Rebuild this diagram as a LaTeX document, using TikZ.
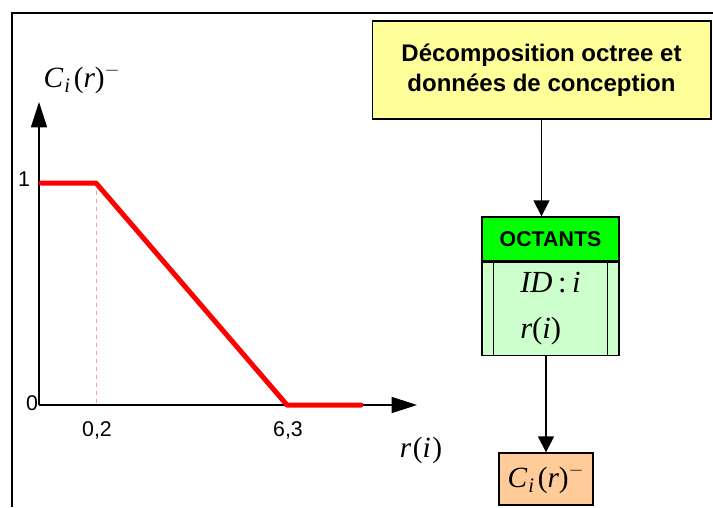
\documentclass[tikz,border=0pt]{standalone}
\usepackage{amsmath}
\usepackage{fontspec}
\setmainfont{Liberation Sans}
\newfontfamily\tnr{Liberation Serif}
\newcommand{\mvar}[1]{\text{\tnr\itshape #1}}
\newcommand{\mup}[1]{\text{\tnr #1}}
\newcommand{\costsym}{$\mvar{C}_{\mkern1mu\mvar{i}}\mkern2mu\mup{(}\mvar{r}\mup{)}^{-}$}
\usetikzlibrary{arrows.meta, positioning}
\definecolor{boxyellow}{HTML}{FFFF99}
\definecolor{octgreen}{HTML}{00FF00}
\definecolor{octpale}{HTML}{CCFFCC}
\definecolor{costorange}{HTML}{FFCC99}

\begin{document}
\begin{tikzpicture}[x=0.75pt, y=-0.75pt,
  box/.style={draw, line width=1pt, inner sep=0pt},
  link/.style={-{Triangle[length=12pt, width=12pt]}, line width=1.1pt},
  axis/.style={-{Triangle[length=19pt, width=12pt]}, line width=1pt},
  lbl/.style={font=\fontsize{16}{18}\selectfont, inner sep=0pt},
  mlbl/.style={font=\fontsize{22}{26}\selectfont, inner sep=0pt}]
  \useasboundingbox (0,0) rectangle (713,507);
  % frame
  \draw[line width=1.5pt] (12,507) -- (12,13) -- (713,13);

  % flow on the right
  \node[box, fill=boxyellow, minimum width=254pt, minimum height=73.5pt, align=center,
        font=\bfseries\fontsize{18}{22.5}\selectfont] (decomp) at (541.5,70)
        {Décomposition octree et\\données de conception};
  \node[box, fill=octgreen, minimum width=102.75pt, minimum height=33pt,
        font=\bfseries\fontsize{16}{18}\selectfont] (octhead) at (550.5,239) {OCTANTS};
  \node[box, fill=octpale, minimum width=102.75pt, minimum height=69.75pt, align=left,
        font=\fontsize{23}{34.5}\selectfont, below=0pt of octhead] (octbody)
        {$\mvar{ID}\,\mup{:}\,\mvar{i}$\\$\mvar{r}\mup{(}\mvar{i}\mup{)}$};
  \draw[line width=1pt] ([xshift=9pt]octbody.north west) -- ([xshift=9pt]octbody.south west);
  \draw[line width=1pt] ([xshift=-9pt]octbody.north east) -- ([xshift=-9pt]octbody.south east);
  \node[box, fill=costorange, minimum width=70.5pt, minimum height=39pt,
        font=\fontsize{22}{26}\selectfont] (cost) at (546,479) {\costsym};

  \draw[link] (decomp.south) -- (decomp.south |- octhead.north);
  \draw[link] (octbody.south -| cost.north) -- (cost.north);

  % membership curve
  \coordinate (O) at (39,405);
  \draw[axis] (O) -- (39,102);
  \draw[axis] (O) -- (417,405);
  \draw[dashed, red!40, line width=0.6pt] (96,183) -- (96,405);
  \draw[red, line width=3.75pt, line cap=round, line join=round]
    (41,183) -- (96,183) -- (287,405) -- (361,405);
  \node[lbl] (one) at (24,179) {1};
  \node[lbl] (zero) at (32,403) {0};
  \node[lbl] (tickA) at (97,430) {0,2};
  \node[lbl] (tickB) at (288,430) {6,3};
  \node[mlbl] (xlab) at (421,450) {$\mvar{r}\mkern1mu\mup{(}\mvar{i}\mkern1mu\mup{)}$};
  \node[mlbl] (ylab) at (82,79) {\costsym};
\end{tikzpicture}
\end{document}
